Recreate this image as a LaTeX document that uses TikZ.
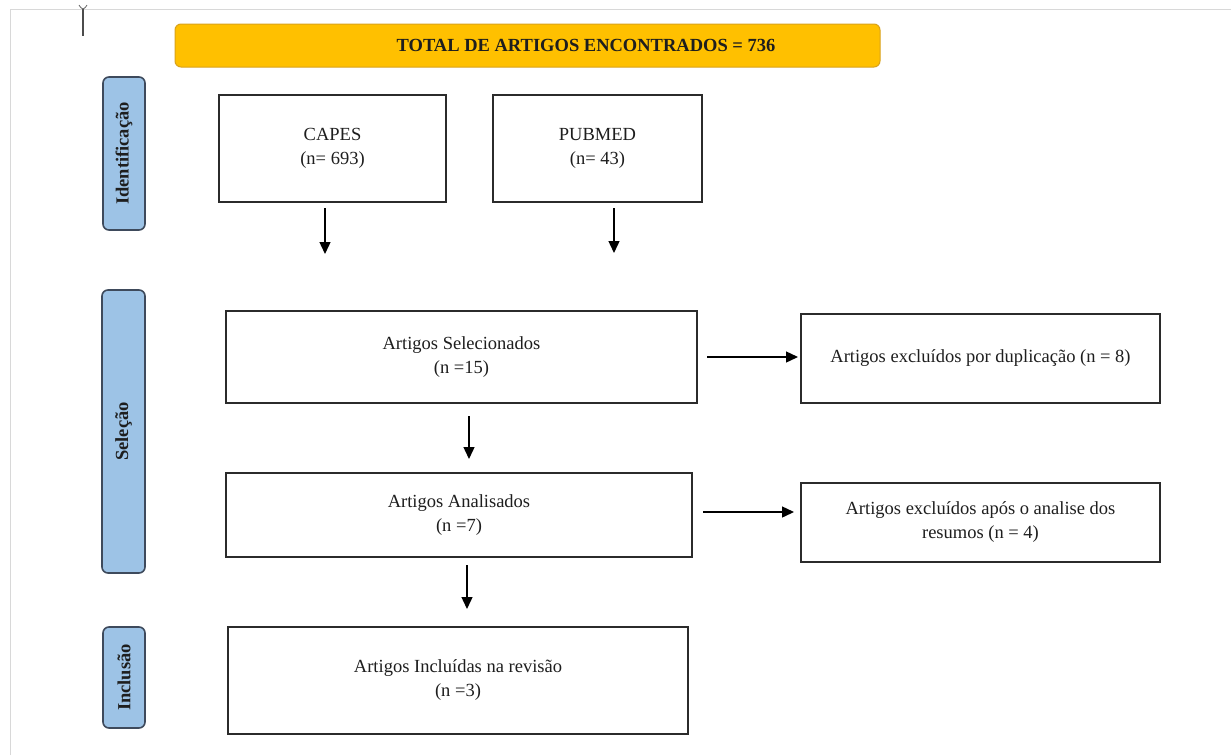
\documentclass[tikz,border=0pt]{standalone}
\usepackage{fontspec}
\setmainfont{Liberation Serif}
\usetikzlibrary{arrows.meta}
\definecolor{titlefill}{HTML}{FFC000}
\definecolor{titledraw}{HTML}{D9A21B}
\definecolor{sidefill}{HTML}{9DC3E6}
\definecolor{sidedraw}{HTML}{3E4A5C}
\definecolor{boxdraw}{HTML}{2B2B2B}
\definecolor{txt}{HTML}{1E1E1E}
\definecolor{pageedge}{HTML}{D8D8D8}
\begin{document}
\begin{tikzpicture}[x=1pt,y=-1pt,
  every node/.style={font=\fontsize{18.5}{24}\selectfont, text=txt, align=center, inner sep=0pt},
  flowbox/.style={draw=boxdraw, line width=1.3pt, fill=white},
  sidebox/.style={draw=sidedraw, line width=1.6pt, fill=sidefill, rounded corners=6pt, rotate=90,
    font=\bfseries\fontsize{18.5}{24}\selectfont},
  titlebox/.style={draw=titledraw, line width=1pt, fill=titlefill, rounded corners=6pt,
    font=\bfseries\fontsize{18.5}{24}\selectfont},
  arr/.style={draw=black, line width=1.4pt, -{Triangle[length=12pt,width=11pt]}}
]
\useasboundingbox (0,0) rectangle (1231,755);
\fill[white] (0,0) rectangle (1231,755);
% page edges of the screenshot
\draw[pageedge, line width=1pt] (10,755) -- (10,9) -- (1231,9);
% text cursor
\draw[black!70, line width=1.2pt] (83,9) -- (83,36);
\draw[black!60, line width=0.8pt] (79,5) .. controls (81,8) .. (83,9) .. controls (85,8) .. (87,5);

% title
\node[titlebox, minimum width=705pt, minimum height=43pt] (total) at (527.5,45.5)
  {\hspace*{117pt}TOTAL DE ARTIGOS ENCONTRADOS = 736};

% side labels
\node[sidebox, minimum width=153pt, minimum height=42pt] (ident) at (124,153.5) {Identificação};
\node[sidebox, minimum width=283pt, minimum height=43pt] (sel) at (123.5,431.5) {Seleção};
\node[sidebox, minimum width=101pt, minimum height=42pt] (incl) at (124,677.5) {Inclusão};

% boxes
\node[flowbox, minimum width=227pt, minimum height=107pt] (capes) at (332.5,148.5) {CAPES\\(n= 693)};
\node[flowbox, minimum width=209pt, minimum height=107pt] (pubmed) at (597.5,148.5) {PUBMED\\(n= 43)};
\node[flowbox, minimum width=471pt, minimum height=92pt] (selec) at (461.5,357) {Artigos Selecionados\\(n =15)};
\node[flowbox, minimum width=359pt, minimum height=89pt] (dup) at (980.5,358.5) {Artigos excluídos por duplicação (n = 8)};
\node[flowbox, minimum width=466pt, minimum height=84pt] (anal) at (459,515) {Artigos Analisados\\(n =7)};
\node[flowbox, minimum width=359pt, minimum height=79pt] (apos) at (980.5,522.5) {Artigos excluídos após o analise dos\\resumos (n = 4)};
\node[flowbox, minimum width=460pt, minimum height=107pt] (inclu) at (458,680.5) {Artigos Incluídas na revisão\\(n =3)};

% arrow end points (arrows do not touch the boxes)
\coordinate (a1s) at (325,208); \coordinate (a1e) at (325,254);
\coordinate (a2s) at (614,208); \coordinate (a2e) at (614,253);
\coordinate (a3s) at (707,357); \coordinate (a3e) at (798,357);
\coordinate (a4s) at (469,416); \coordinate (a4e) at (469,459);
\coordinate (a5s) at (703,512); \coordinate (a5e) at (794,512);
\coordinate (a6s) at (467,565); \coordinate (a6e) at (467,609);

\draw[arr] (a1s) -- (a1e);
\draw[arr] (a2s) -- (a2e);
\draw[arr] (a3s) -- (a3e);
\draw[arr] (a4s) -- (a4e);
\draw[arr] (a5s) -- (a5e);
\draw[arr] (a6s) -- (a6e);
\end{tikzpicture}
\end{document}
